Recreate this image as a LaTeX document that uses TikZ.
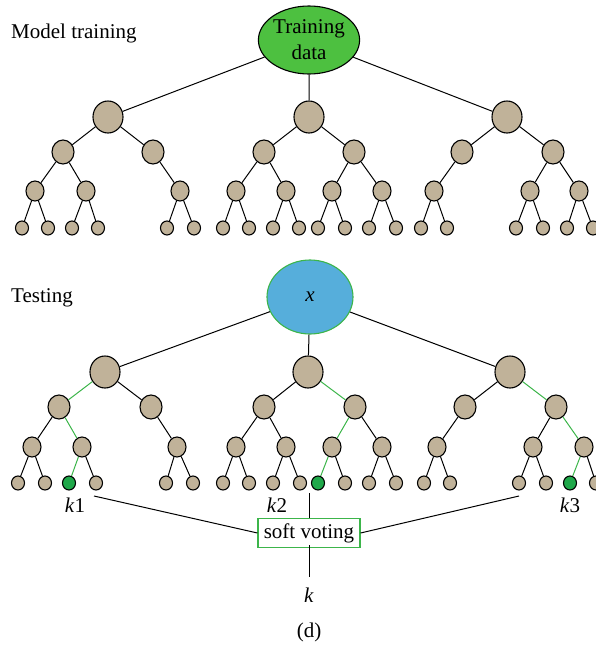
\documentclass[tikz,border=0pt]{standalone}
\usepackage{fontspec}
\setmainfont{Liberation Serif}
\usetikzlibrary{shapes.geometric}
\definecolor{tan}{HTML}{C0B299}
\definecolor{tdgreen}{HTML}{4DC040}
\definecolor{xblue}{HTML}{56AEDB}
\definecolor{leafgreen}{HTML}{1FA84A}
\definecolor{pathgreen}{HTML}{3CB54A}
\tikzset{
  nd/.style={ellipse,draw=black,fill=tan,line width=1.1pt,inner sep=0pt},
  lvA/.style={nd,minimum width=30pt,minimum height=32pt},
  lvB/.style={nd,minimum width=22pt,minimum height=24pt},
  lvC/.style={nd,minimum width=18pt,minimum height=20pt},
  lf/.style={nd,minimum width=13pt,minimum height=14pt},
  gl/.style={lf,fill=leafgreen},
  ed/.style={line width=1pt,black},
  ged/.style={line width=1pt,pathgreen},
  lbl/.style={font=\fontsize{21}{24}\selectfont,inner sep=0pt},
}
\newcommand\nd[3]{\node[#1] (#2) at (#3) {};}
\begin{document}
\begin{tikzpicture}[x=1pt,y=-1pt]
\useasboundingbox (0,0) rectangle (596,648);
% labels
\node[lbl,anchor=west] (mt) at (11,33) {Model training};
\node[lbl,anchor=west] (ts) at (11,298) {Testing};
% top root
\node[ellipse,draw=black,fill=tdgreen,line width=1.1pt,minimum width=88pt,minimum height=68pt,inner sep=0pt,align=center,font=\fontsize{21}{26}\selectfont] (td) at (309,40) {Training\\data};
% ---- top tree 1
\nd{lvA}{a}{108,117}
\nd{lvB}{a1}{63,152} \nd{lvB}{a2}{153,152}
\nd{lvC}{a11}{35,191} \nd{lvC}{a12}{86,191} \nd{lvC}{a22}{180,191}
\nd{lf}{a111}{22,228} \nd{lf}{a112}{48,228} \nd{lf}{a121}{72,228} \nd{lf}{a122}{98,228}
\nd{lf}{a221}{167,228} \nd{lf}{a222}{194,228}
% ---- top tree 2
\nd{lvA}{b}{309,117}
\nd{lvB}{b1}{264,152} \nd{lvB}{b2}{354,152}
\nd{lvC}{b11}{236,191} \nd{lvC}{b12}{286,191} \nd{lvC}{b21}{332,191} \nd{lvC}{b22}{382,191}
\nd{lf}{b111}{223,228} \nd{lf}{b112}{249,228} \nd{lf}{b121}{273,228} \nd{lf}{b122}{299,228}
\nd{lf}{b211}{318,228} \nd{lf}{b212}{345,228} \nd{lf}{b221}{369,228} \nd{lf}{b222}{396,228}
% ---- top tree 3
\nd{lvA}{c}{507,117}
\nd{lvB}{c1}{462,152} \nd{lvB}{c2}{553,152}
\nd{lvC}{c11}{434,191} \nd{lvC}{c21}{530,191} \nd{lvC}{c22}{579,191}
\nd{lf}{c111}{421,228} \nd{lf}{c112}{447,228}
\nd{lf}{c211}{516,228} \nd{lf}{c212}{543,228} \nd{lf}{c221}{567,228} \nd{lf}{c222}{593,228}
% top edges
\draw[ed] (td) -- (a) (td) -- (b) (td) -- (c);
\draw[ed] (a) -- (a1) (a) -- (a2) (a1) -- (a11) (a1) -- (a12) (a2) -- (a22)
  (a11) -- (a111) (a11) -- (a112) (a12) -- (a121) (a12) -- (a122) (a22) -- (a221) (a22) -- (a222);
\draw[ed] (b) -- (b1) (b) -- (b2) (b1) -- (b11) (b1) -- (b12) (b2) -- (b21) (b2) -- (b22)
  (b11) -- (b111) (b11) -- (b112) (b12) -- (b121) (b12) -- (b122)
  (b21) -- (b211) (b21) -- (b212) (b22) -- (b221) (b22) -- (b222);
\draw[ed] (c) -- (c1) (c) -- (c2) (c1) -- (c11) (c2) -- (c21) (c2) -- (c22)
  (c11) -- (c111) (c11) -- (c112) (c21) -- (c211) (c21) -- (c212) (c22) -- (c221) (c22) -- (c222);
% bottom root
\node[ellipse,draw=pathgreen,fill=xblue,line width=1.1pt,minimum width=86pt,minimum height=74pt,inner sep=0pt,font=\fontsize{21}{24}\selectfont] (x) at (310,297) {\textit{x}};
% ---- bottom tree 1
\nd{lvA}{d}{105,372}
\nd{lvB}{d1}{59,407} \nd{lvB}{d2}{151,407}
\nd{lvC}{d11}{32,447} \nd{lvC}{d12}{82,447} \nd{lvC}{d22}{177,447}
\nd{lf}{d111}{18,483} \nd{lf}{d112}{45,483} \nd{gl}{d121}{69,483} \nd{lf}{d122}{96,483}
\nd{lf}{d221}{166,483} \nd{lf}{d222}{193,483}
% ---- bottom tree 2
\nd{lvA}{e}{308,372}
\nd{lvB}{e1}{264,407} \nd{lvB}{e2}{355,407}
\nd{lvC}{e11}{236,447} \nd{lvC}{e12}{286,447} \nd{lvC}{e21}{332,447} \nd{lvC}{e22}{382,447}
\nd{lf}{e111}{223,483} \nd{lf}{e112}{249,483} \nd{lf}{e121}{273,483} \nd{lf}{e122}{300,483}
\nd{gl}{e211}{318,483} \nd{lf}{e212}{345,483} \nd{lf}{e221}{369,483} \nd{lf}{e222}{396,483}
% ---- bottom tree 3
\nd{lvA}{f}{510,372}
\nd{lvB}{f1}{465,407} \nd{lvB}{f2}{556,407}
\nd{lvC}{f11}{437,447} \nd{lvC}{f21}{533,447} \nd{lvC}{f22}{584,447}
\nd{lf}{f111}{424,483} \nd{lf}{f112}{450,483}
\nd{lf}{f211}{519,483} \nd{lf}{f212}{546,483} \nd{gl}{f221}{570,483} \nd{lf}{f222}{596,483}
% bottom edges
\draw[ed] (x) -- (d) (x) -- (e) (x) -- (f);
\draw[ed] (d) -- (d2) (d1) -- (d11) (d2) -- (d22)
  (d11) -- (d111) (d11) -- (d112) (d12) -- (d122) (d22) -- (d221) (d22) -- (d222);
\draw[ged] (d) -- (d1) (d1) -- (d12) (d12) -- (d121);
\draw[ed] (e) -- (e1) (e1) -- (e11) (e1) -- (e12) (e2) -- (e22)
  (e11) -- (e111) (e11) -- (e112) (e12) -- (e121) (e12) -- (e122)
  (e21) -- (e212) (e22) -- (e221) (e22) -- (e222);
\draw[ged] (e) -- (e2) (e2) -- (e21) (e21) -- (e211);
\draw[ed] (f) -- (f1) (f1) -- (f11) (f2) -- (f21)
  (f11) -- (f111) (f11) -- (f112) (f21) -- (f211) (f21) -- (f212) (f22) -- (f222);
\draw[ged] (f) -- (f2) (f2) -- (f22) (f22) -- (f221);
% k labels
\node[lbl] (k1) at (75,505) {\textit{k}1};
\node[lbl] (k2) at (277,505) {\textit{k}2};
\node[lbl] (k3) at (570,505) {\textit{k}3};
% soft voting
\node[draw=pathgreen,line width=1.1pt,minimum width=102pt,minimum height=29pt,inner sep=0pt,font=\fontsize{21}{24}\selectfont] (sv) at (309,533) {soft voting};
\coordinate (pl) at (94,496);
\coordinate (pr) at (519,496);
\coordinate (pt) at (309,493);
\coordinate (pb) at (309,577);
\draw[ed] (pl) -- (sv.west);
\draw[ed] (pr) -- (sv.east);
\draw[ed] (pt) -- (sv.north);
\draw[ed] (sv.south) ++(0,-3) coordinate (svb) (svb) -- (pb);
\node[lbl] (k) at (309,595) {\textit{k}};
\node[lbl] (cap) at (309,632) {(d)};
\end{tikzpicture}
\end{document}
